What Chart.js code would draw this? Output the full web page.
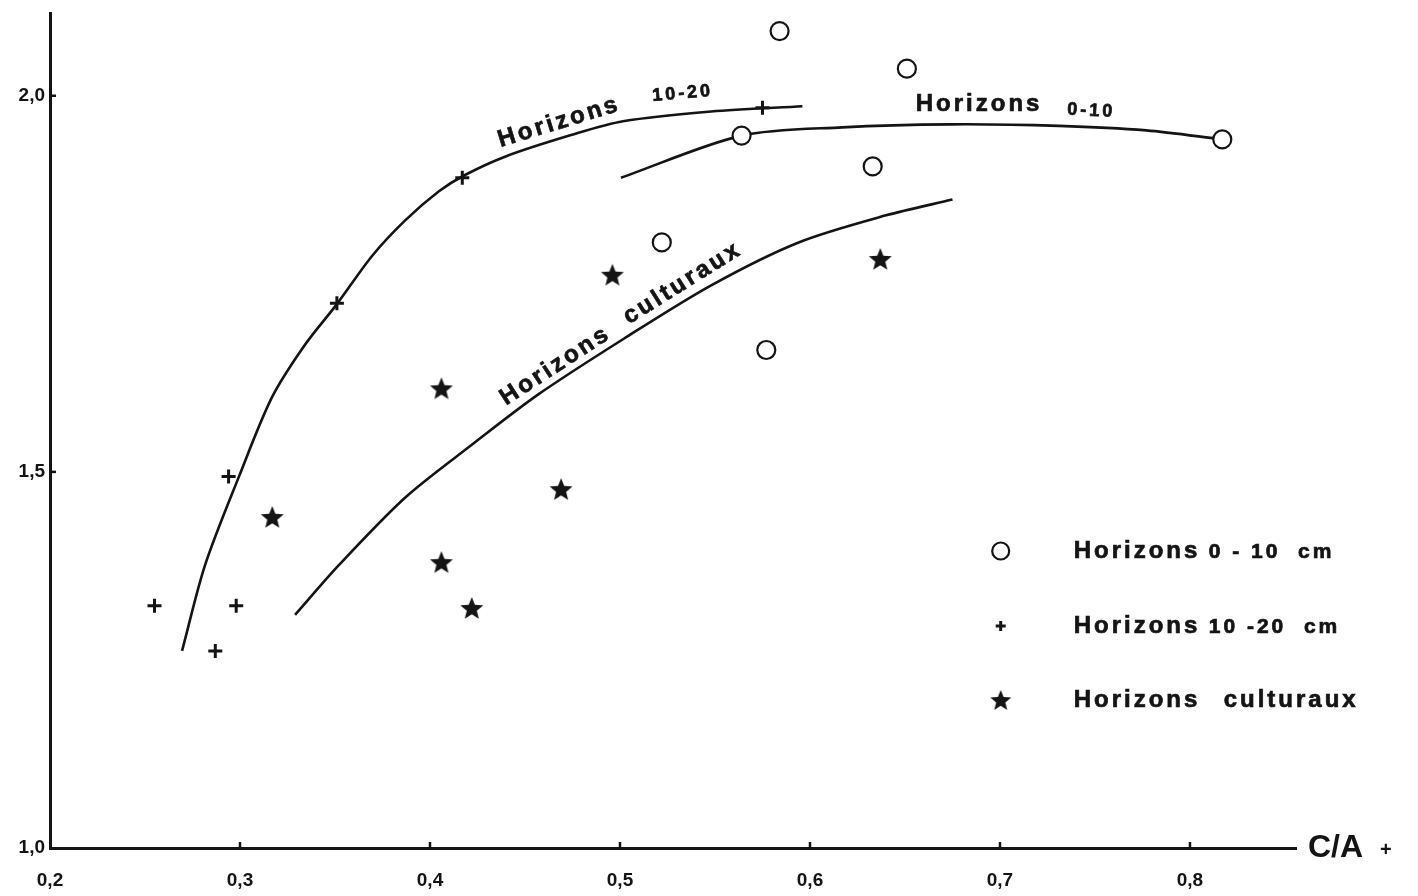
<!DOCTYPE html>
<html>
<head>
<meta charset="utf-8">
<script src="https://cdn.jsdelivr.net/npm/chart.js@4.4.1/dist/chart.umd.min.js"></script>
<style>
  html, body { margin: 0; padding: 0; background: #fff; }
  #wrap { width: 1418px; height: 896px; position: relative; }
</style>
</head>
<body>
<div id="wrap"><canvas id="c"></canvas></div>
<script>
// Ticks
const xTicks = [0.2, 0.3, 0.4, 0.5, 0.6, 0.7, 0.8];
const yTicks = [1.0, 1.5, 2.0];

// Measured points
const h010X = [0.584, 0.651, 0.564, 0.633, 0.817, 0.522, 0.577];
const h010Y = [2.086, 2.036, 1.947, 1.906, 1.942, 1.805, 1.662];
const h1020X = [0.255, 0.287, 0.298, 0.294, 0.351, 0.417, 0.575];
const h1020Y = [1.322, 1.262, 1.322, 1.494, 1.724, 1.891, 1.984];
const cultX = [0.317, 0.406, 0.406, 0.422, 0.469, 0.496, 0.637];
const cultY = [1.440, 1.611, 1.380, 1.319, 1.477, 1.762, 1.783];

// Hand drawn curves
const curve1020X = [0.2695, 0.2816, 0.2995, 0.3168, 0.3342, 0.351, 0.3695, 0.3868, 0.4047, 0.4179, 0.4395, 0.4747, 0.5016, 0.548, 0.596];
const curve1020Y = [1.262, 1.376, 1.494, 1.599, 1.669, 1.723, 1.787, 1.834, 1.873, 1.894, 1.919, 1.948, 1.966, 1.979, 1.986];
const curve010X = [0.5005, 0.564, 0.617, 0.674, 0.731, 0.777, 0.817];
const curve010Y = [1.891, 1.947, 1.958, 1.962, 1.960, 1.954, 1.942];
const curveCultX = [0.329, 0.352, 0.387, 0.422, 0.457, 0.502, 0.548, 0.594, 0.640, 0.675];
const curveCultY = [1.310, 1.376, 1.466, 1.536, 1.603, 1.677, 1.748, 1.805, 1.841, 1.862];

// Legend
const legendNames = ['Horizons', 'Horizons', 'Horizons'];
const legendUnits = ['0 - 10  cm', '10 -20  cm', 'culturaux'];

const INK = '#141414';
const FONT = "'Liberation Sans', Arial, sans-serif";

function pts(xs, ys) {
  return xs.map((x, i) => ({ x: x, y: ys[i] }));
}

function fmt(v) {
  return v.toFixed(1).replace('.', ',');
}

// filled five point star used as point style
function makeStar(size) {
  const c = document.createElement('canvas');
  c.width = size; c.height = size;
  const g = c.getContext('2d');
  g.fillStyle = INK;
  g.beginPath();
  for (let i = 0; i < 10; i++) {
    const r = i % 2 ? size * 0.22 : size * 0.5;
    const a = -Math.PI / 2 + i * Math.PI / 5;
    const px = size / 2 + r * Math.cos(a);
    const py = size / 2 + 1 + r * Math.sin(a);
    if (i === 0) g.moveTo(px, py); else g.lineTo(px, py);
  }
  g.closePath();
  g.fill();
  return c;
}
const star = makeStar(24);
const starSmall = makeStar(22);

function curve(xs, ys) {
  return {
    data: pts(xs, ys),
    showLine: true,
    borderColor: INK,
    borderWidth: 2.6,
    pointRadius: 0,
    tension: 0.3,
    order: 2
  };
}

function text(ctx, str, x, y, size, angle, align) {
  ctx.save();
  ctx.translate(x, y);
  ctx.rotate(angle * Math.PI / 180);
  ctx.font = 'bold ' + size + 'px ' + FONT;
  ctx.letterSpacing = '3px';
  ctx.fillStyle = INK;
  ctx.strokeStyle = INK;
  ctx.lineWidth = 0.7;
  ctx.textAlign = align || 'center';
  ctx.textBaseline = 'middle';
  ctx.fillText(str, 0, 0);
  ctx.strokeText(str, 0, 0);
  ctx.restore();
}

// labels on curves, legend, small inward ticks and axis name
const annotations = {
  id: 'annotations',
  afterDraw(chart) {
    const ctx = chart.ctx;
    const xs = chart.scales.x, ys = chart.scales.y;
    const P = (x, y) => [xs.getPixelForValue(x), ys.getPixelForValue(y)];
    const area = chart.chartArea;

    // inward ticks
    ctx.save();
    ctx.strokeStyle = INK;
    ctx.lineWidth = 2.5;
    xTicks.slice(1).forEach(v => {
      const px = xs.getPixelForValue(v);
      ctx.beginPath(); ctx.moveTo(px, area.bottom); ctx.lineTo(px, area.bottom - 6); ctx.stroke();
    });
    yTicks.slice(1).forEach(v => {
      const py = ys.getPixelForValue(v);
      ctx.beginPath(); ctx.moveTo(area.left, py); ctx.lineTo(area.left + 6, py); ctx.stroke();
    });
    ctx.restore();

    // curve labels
    let p = P(0.468, 1.965); text(ctx, 'Horizons', p[0], p[1], 24, -17);
    p = P(0.533, 2.003); text(ctx, '10-20', p[0], p[1], 18, -5);
    p = P(0.689, 1.988); text(ctx, 'Horizons', p[0], p[1], 24, 0);
    p = P(0.748, 1.980); text(ctx, '0-10', p[0], p[1], 18, 3);
    p = P(0.466, 1.641); text(ctx, 'Horizons', p[0], p[1], 24, -33);
    p = P(0.533, 1.751); text(ctx, 'culturaux', p[0], p[1], 24, -32);

    // axis name at the end of the x axis
    ctx.save();
    ctx.font = 'bold 32px ' + FONT;
    ctx.fillStyle = INK;
    ctx.textBaseline = 'middle';
    ctx.fillText('C/A', area.right + 12, area.bottom);
    ctx.font = 'bold 20px ' + FONT;
    ctx.fillText('+', area.right + 84, area.bottom + 2);
    ctx.restore();

    // legend
    const lx = area.left + (area.right - area.left) * 0.763;
    const rows = [551, 626, 700];
    rows.forEach((ry, i) => {
      ctx.save();
      ctx.strokeStyle = INK; ctx.fillStyle = '#fff';
      if (i === 0) {
        ctx.lineWidth = 2.2;
        ctx.beginPath(); ctx.arc(lx, ry, 8.5, 0, Math.PI * 2); ctx.fill(); ctx.stroke();
      } else if (i === 1) {
        ctx.lineWidth = 3;
        ctx.beginPath();
        ctx.moveTo(lx - 5, ry); ctx.lineTo(lx + 5, ry);
        ctx.moveTo(lx, ry - 5); ctx.lineTo(lx, ry + 5);
        ctx.stroke();
      } else {
        ctx.drawImage(starSmall, lx - 11, ry - 11);
      }
      ctx.restore();
      text(ctx, legendNames[i], lx + 73, ry, 24, 0, 'left');
      text(ctx, legendUnits[i], lx + (i === 2 ? 223 : 208), ry + (i === 2 ? 0 : 1), i === 2 ? 24 : 21, 0, 'left');
    });
  }
};

new Chart(document.getElementById('c'), {
  type: 'scatter',
  data: {
    datasets: [
      curve(curve1020X, curve1020Y),
      curve(curve010X, curve010Y),
      curve(curveCultX, curveCultY),
      {
        label: 'Horizons 0-10 cm',
        data: pts(h010X, h010Y),
        pointStyle: 'circle',
        pointRadius: 9,
        borderWidth: 2.2,
        borderColor: INK,
        backgroundColor: '#fff',
        order: 1
      },
      {
        label: 'Horizons 10-20 cm',
        data: pts(h1020X, h1020Y),
        pointStyle: 'cross',
        pointRadius: 7,
        borderWidth: 3,
        borderColor: INK,
        order: 1
      },
      {
        label: 'Horizons culturaux',
        data: pts(cultX, cultY),
        pointStyle: star,
        pointRadius: 12,
        order: 1
      }
    ]
  },
  options: {
    responsive: true,
    maintainAspectRatio: false,
    animation: false,
    layout: { padding: { top: 10, right: 122, left: 0, bottom: 0 } },
    plugins: { legend: { display: false }, tooltip: { enabled: false } },
    scales: {
      x: {
        type: 'linear',
        min: 0.2,
        max: 0.8558,
        afterBuildTicks: s => { s.ticks = xTicks.map(v => ({ value: v })); },
        afterFit: s => { s.height = 48; },
        grid: { drawOnChartArea: false, drawTicks: false },
        border: { display: true, width: 3, color: INK },
        ticks: {
          padding: 21,
          color: INK,
          font: { family: FONT, size: 19, weight: 'bold' },
          callback: v => fmt(v)
        }
      },
      y: {
        type: 'linear',
        min: 1.0,
        max: 2.11,
        afterBuildTicks: s => { s.ticks = yTicks.map(v => ({ value: v })); },
        // no extra room for half label heights, the axis runs to the top
        afterFit: s => { s.width = 50; s.paddingTop = 0; s.paddingBottom = 0; },
        grid: { drawOnChartArea: false, drawTicks: false },
        border: { display: true, width: 3, color: INK },
        ticks: {
          padding: 5,
          color: INK,
          font: { family: FONT, size: 19, weight: 'bold' },
          callback: v => fmt(v)
        }
      }
    }
  },
  plugins: [annotations]
});
</script>
</body>
</html>
